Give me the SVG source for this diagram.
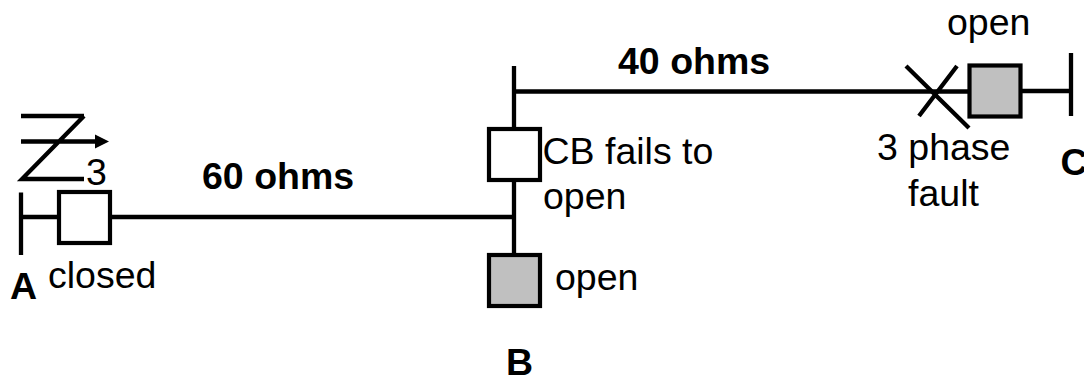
<svg xmlns="http://www.w3.org/2000/svg" width="1084" height="377" viewBox="0 0 1084 377">
<style>
text{font-family:"Liberation Sans",Arial,sans-serif;font-size:37.5px;fill:#000}
.b{font-weight:bold}
.l{fill:none;stroke:#000;stroke-width:4.3}
.cb{stroke:#000;stroke-width:4.2}
</style>
<defs>
<rect id="cbs" x="0" y="0" width="51" height="51"/>
</defs>
<rect width="1084" height="377" fill="#fff"/>
<g id="connectors">
<path class="l" d="M21 192.500V255M21 217H59M110 217H514M514 66V129M514 91.500H969M1021 91H1071M514 180V255M1071 53V116"/>
</g>
<g id="relay">
<path class="l" d="M21 116H84M21 141.500H97M84 116L22 179H84"/>
<path d="M95 134.500L109 141.500L95 148.500Z"/>
<text x="86" y="185">3</text>
</g>
<g id="cb-a"><use href="#cbs" x="59" y="192" class="cb" fill="#fff"/></g>
<g id="cb-b1"><use href="#cbs" x="489" y="129" class="cb" fill="#fff"/></g>
<g id="cb-b2"><use href="#cbs" x="489" y="255" class="cb" fill="#c0c0c0"/></g>
<g id="cb-c"><use href="#cbs" x="969.500" y="65.500" class="cb" fill="#c0c0c0"/></g>
<g id="fault">
<path class="l" d="M906 66L969 128M957 66L919 116"/>
</g>
<g id="labels">
<text x="10" y="299" class="b">A</text>
<text x="48" y="288">closed</text>
<text x="202" y="189" class="b">60 ohms</text>
<text x="618" y="74" class="b">40 ohms</text>
<text x="542.500" y="164">CB fails to</text>
<text x="543" y="209">open</text>
<text x="555" y="290">open</text>
<text x="506" y="375" class="b">B</text>
<text x="947" y="35">open</text>
<text x="877" y="160">3 phase</text>
<text x="908" y="206">fault</text>
<text x="1060.500" y="174.500" class="b">C</text>
</g>
</svg>
